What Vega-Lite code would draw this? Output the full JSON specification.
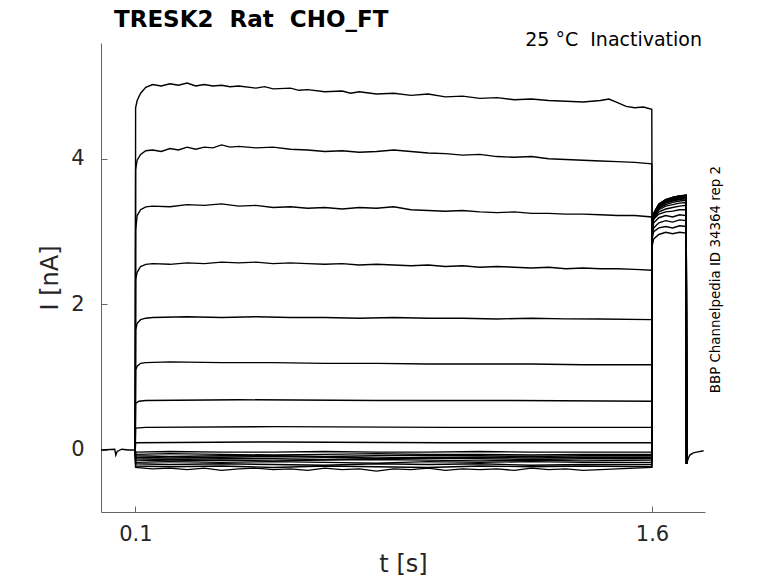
{
  "$schema": "https://vega.github.io/schema/vega-lite/v6.json",
  "width": 604,
  "height": 469,
  "autosize": {"type": "none"},
  "padding": {"left": 101, "top": 43, "right": 73, "bottom": 71},
  "background": "white",
  "config": {
    "view": {"stroke": null},
    "font": "DejaVu Sans",
    "axis": {
      "grid": false,
      "domainColor": "#666666",
      "tickColor": "#666666",
      "tickSize": -6,
      "labelFont": "DejaVu Sans",
      "labelFontSize": 21,
      "labelColor": "#262626",
      "titleFont": "DejaVu Sans",
      "titleFontSize": 24,
      "titleFontWeight": "normal",
      "titleColor": "#262626"
    }
  },
  "title": {
    "text": "TRESK2 \u00a0Rat \u00a0CHO_FT",
    "anchor": "start",
    "frame": "group",
    "font": "DejaVu Sans",
    "fontSize": 23,
    "fontWeight": "bold",
    "color": "black",
    "dx": 13,
    "offset": -1
  },
  "layer": [
    {
      "data": {
        "values": [
          {"s":1,"t":0,"i":0},{"s":1,"t":0.04,"i":0.01},{"s":1,"t":0.043,"i":-0.07},{"s":1,"t":0.047,"i":-0.02},{"s":1,"t":0.06,"i":0.01},{"s":1,"t":0.08,"i":0},{"s":1,"t":0.0995,"i":0},
          {"s":1,"t":0.1005,"i":4.7},{"s":1,"t":0.105,"i":4.8},{"s":1,"t":0.115,"i":4.9},{"s":1,"t":0.13,"i":4.98},{"s":1,"t":0.15,"i":5.02},{"s":1,"t":0.175,"i":5.0},{"s":1,"t":0.2,"i":5.03},{"s":1,"t":0.225,"i":5.01},{"s":1,"t":0.25,"i":5.04},{"s":1,"t":0.275,"i":5.0},{"s":1,"t":0.3,"i":5.02},{"s":1,"t":0.325,"i":5.0},{"s":1,"t":0.35,"i":5.01},{"s":1,"t":0.375,"i":4.99},{"s":1,"t":0.4,"i":5.0},{"s":1,"t":0.45,"i":4.97},{"s":1,"t":0.475,"i":4.99},{"s":1,"t":0.5,"i":4.96},{"s":1,"t":0.55,"i":4.97},{"s":1,"t":0.575,"i":4.94},{"s":1,"t":0.6,"i":4.95},{"s":1,"t":0.65,"i":4.92},{"s":1,"t":0.7,"i":4.93},{"s":1,"t":0.725,"i":4.9},{"s":1,"t":0.75,"i":4.92},{"s":1,"t":0.8,"i":4.89},{"s":1,"t":0.85,"i":4.9},{"s":1,"t":0.9,"i":4.87},{"s":1,"t":0.95,"i":4.89},{"s":1,"t":1.0,"i":4.85},{"s":1,"t":1.05,"i":4.86},{"s":1,"t":1.1,"i":4.83},{"s":1,"t":1.15,"i":4.84},{"s":1,"t":1.2,"i":4.81},{"s":1,"t":1.25,"i":4.82},{"s":1,"t":1.3,"i":4.8},{"s":1,"t":1.35,"i":4.79},{"s":1,"t":1.4,"i":4.78},{"s":1,"t":1.45,"i":4.8},{"s":1,"t":1.475,"i":4.82},{"s":1,"t":1.5,"i":4.77},{"s":1,"t":1.525,"i":4.72},{"s":1,"t":1.55,"i":4.7},{"s":1,"t":1.575,"i":4.71},{"s":1,"t":1.5995,"i":4.68},
          {"s":1,"t":1.6005,"i":2.8},{"s":1,"t":1.605,"i":2.9},{"s":1,"t":1.62,"i":2.96},{"s":1,"t":1.64,"i":2.99},{"s":1,"t":1.66,"i":2.97},{"s":1,"t":1.68,"i":2.99},{"s":1,"t":1.6995,"i":2.98},
          {"s":1,"t":1.7005,"i":-0.19},{"s":1,"t":1.705,"i":-0.12},{"s":1,"t":1.71,"i":-0.07},{"s":1,"t":1.72,"i":-0.04},{"s":1,"t":1.73,"i":-0.03},{"s":1,"t":1.75,"i":-0.01},

          {"s":2,"t":0.0995,"i":0},{"s":2,"t":0.1005,"i":3.85},{"s":2,"t":0.105,"i":3.98},{"s":2,"t":0.115,"i":4.06},{"s":2,"t":0.13,"i":4.11},{"s":2,"t":0.15,"i":4.12},{"s":2,"t":0.175,"i":4.1},{"s":2,"t":0.2,"i":4.14},{"s":2,"t":0.225,"i":4.12},{"s":2,"t":0.25,"i":4.16},{"s":2,"t":0.275,"i":4.13},{"s":2,"t":0.3,"i":4.16},{"s":2,"t":0.325,"i":4.15},{"s":2,"t":0.35,"i":4.19},{"s":2,"t":0.375,"i":4.16},{"s":2,"t":0.4,"i":4.17},{"s":2,"t":0.45,"i":4.15},{"s":2,"t":0.5,"i":4.16},{"s":2,"t":0.55,"i":4.13},{"s":2,"t":0.6,"i":4.12},{"s":2,"t":0.65,"i":4.1},{"s":2,"t":0.7,"i":4.11},{"s":2,"t":0.75,"i":4.09},{"s":2,"t":0.8,"i":4.1},{"s":2,"t":0.85,"i":4.12},{"s":2,"t":0.9,"i":4.1},{"s":2,"t":0.95,"i":4.08},{"s":2,"t":1.0,"i":4.07},{"s":2,"t":1.05,"i":4.05},{"s":2,"t":1.1,"i":4.06},{"s":2,"t":1.15,"i":4.03},{"s":2,"t":1.2,"i":4.02},{"s":2,"t":1.25,"i":4.03},{"s":2,"t":1.3,"i":4.0},{"s":2,"t":1.35,"i":3.99},{"s":2,"t":1.4,"i":3.98},{"s":2,"t":1.45,"i":3.97},{"s":2,"t":1.5,"i":3.96},{"s":2,"t":1.55,"i":3.95},{"s":2,"t":1.5995,"i":3.93},
          {"s":2,"t":1.6005,"i":2.9},{"s":2,"t":1.605,"i":3.0},{"s":2,"t":1.62,"i":3.05},{"s":2,"t":1.64,"i":3.07},{"s":2,"t":1.66,"i":3.05},{"s":2,"t":1.68,"i":3.08},{"s":2,"t":1.6995,"i":3.07},{"s":2,"t":1.7005,"i":-0.19},

          {"s":3,"t":0.0995,"i":0},{"s":3,"t":0.1005,"i":3.02},{"s":3,"t":0.105,"i":3.22},{"s":3,"t":0.115,"i":3.3},{"s":3,"t":0.13,"i":3.34},{"s":3,"t":0.15,"i":3.35},{"s":3,"t":0.2,"i":3.34},{"s":3,"t":0.25,"i":3.37},{"s":3,"t":0.3,"i":3.36},{"s":3,"t":0.35,"i":3.38},{"s":3,"t":0.4,"i":3.35},{"s":3,"t":0.45,"i":3.36},{"s":3,"t":0.5,"i":3.33},{"s":3,"t":0.55,"i":3.34},{"s":3,"t":0.6,"i":3.32},{"s":3,"t":0.65,"i":3.33},{"s":3,"t":0.7,"i":3.31},{"s":3,"t":0.75,"i":3.33},{"s":3,"t":0.8,"i":3.32},{"s":3,"t":0.85,"i":3.34},{"s":3,"t":0.9,"i":3.3},{"s":3,"t":0.95,"i":3.29},{"s":3,"t":1.0,"i":3.28},{"s":3,"t":1.05,"i":3.29},{"s":3,"t":1.1,"i":3.27},{"s":3,"t":1.15,"i":3.26},{"s":3,"t":1.2,"i":3.27},{"s":3,"t":1.25,"i":3.25},{"s":3,"t":1.3,"i":3.25},{"s":3,"t":1.35,"i":3.24},{"s":3,"t":1.4,"i":3.24},{"s":3,"t":1.45,"i":3.23},{"s":3,"t":1.5,"i":3.22},{"s":3,"t":1.55,"i":3.22},{"s":3,"t":1.5995,"i":3.2},
          {"s":3,"t":1.6005,"i":2.95},{"s":3,"t":1.605,"i":3.05},{"s":3,"t":1.62,"i":3.12},{"s":3,"t":1.64,"i":3.15},{"s":3,"t":1.66,"i":3.13},{"s":3,"t":1.68,"i":3.16},{"s":3,"t":1.6995,"i":3.15},{"s":3,"t":1.7005,"i":-0.19},

          {"s":4,"t":0.0995,"i":0},{"s":4,"t":0.1005,"i":2.34},{"s":4,"t":0.105,"i":2.44},{"s":4,"t":0.115,"i":2.52},{"s":4,"t":0.13,"i":2.55},{"s":4,"t":0.15,"i":2.56},{"s":4,"t":0.2,"i":2.55},{"s":4,"t":0.25,"i":2.57},{"s":4,"t":0.3,"i":2.56},{"s":4,"t":0.35,"i":2.58},{"s":4,"t":0.4,"i":2.57},{"s":4,"t":0.45,"i":2.58},{"s":4,"t":0.5,"i":2.56},{"s":4,"t":0.55,"i":2.57},{"s":4,"t":0.6,"i":2.56},{"s":4,"t":0.65,"i":2.55},{"s":4,"t":0.7,"i":2.56},{"s":4,"t":0.75,"i":2.54},{"s":4,"t":0.8,"i":2.55},{"s":4,"t":0.85,"i":2.54},{"s":4,"t":0.9,"i":2.53},{"s":4,"t":0.95,"i":2.54},{"s":4,"t":1.0,"i":2.52},{"s":4,"t":1.05,"i":2.53},{"s":4,"t":1.1,"i":2.51},{"s":4,"t":1.15,"i":2.52},{"s":4,"t":1.2,"i":2.51},{"s":4,"t":1.25,"i":2.5},{"s":4,"t":1.3,"i":2.51},{"s":4,"t":1.35,"i":2.49},{"s":4,"t":1.4,"i":2.5},{"s":4,"t":1.45,"i":2.49},{"s":4,"t":1.5,"i":2.49},{"s":4,"t":1.55,"i":2.48},{"s":4,"t":1.5995,"i":2.47},
          {"s":4,"t":1.6005,"i":3.0},{"s":4,"t":1.605,"i":3.12},{"s":4,"t":1.62,"i":3.19},{"s":4,"t":1.64,"i":3.22},{"s":4,"t":1.66,"i":3.2},{"s":4,"t":1.68,"i":3.23},{"s":4,"t":1.6995,"i":3.22},{"s":4,"t":1.7005,"i":-0.19},

          {"s":5,"t":0.0995,"i":0},{"s":5,"t":0.1005,"i":1.65},{"s":5,"t":0.105,"i":1.74},{"s":5,"t":0.115,"i":1.79},{"s":5,"t":0.13,"i":1.81},{"s":5,"t":0.15,"i":1.82},{"s":5,"t":0.25,"i":1.83},{"s":5,"t":0.35,"i":1.82},{"s":5,"t":0.45,"i":1.83},{"s":5,"t":0.55,"i":1.82},{"s":5,"t":0.65,"i":1.82},{"s":5,"t":0.75,"i":1.81},{"s":5,"t":0.85,"i":1.82},{"s":5,"t":0.95,"i":1.81},{"s":5,"t":1.05,"i":1.81},{"s":5,"t":1.15,"i":1.8},{"s":5,"t":1.25,"i":1.81},{"s":5,"t":1.35,"i":1.8},{"s":5,"t":1.45,"i":1.8},{"s":5,"t":1.5995,"i":1.79},
          {"s":5,"t":1.6005,"i":3.05},{"s":5,"t":1.605,"i":3.17},{"s":5,"t":1.62,"i":3.24},{"s":5,"t":1.64,"i":3.27},{"s":5,"t":1.66,"i":3.28},{"s":5,"t":1.68,"i":3.3},{"s":5,"t":1.6995,"i":3.3},{"s":5,"t":1.7005,"i":-0.19},

          {"s":6,"t":0.0995,"i":0},{"s":6,"t":0.1005,"i":1.1},{"s":6,"t":0.105,"i":1.15},{"s":6,"t":0.115,"i":1.19},{"s":6,"t":0.13,"i":1.2},{"s":6,"t":0.2,"i":1.21},{"s":6,"t":0.35,"i":1.2},{"s":6,"t":0.5,"i":1.2},{"s":6,"t":0.65,"i":1.19},{"s":6,"t":0.8,"i":1.19},{"s":6,"t":0.95,"i":1.18},{"s":6,"t":1.1,"i":1.18},{"s":6,"t":1.25,"i":1.18},{"s":6,"t":1.4,"i":1.17},{"s":6,"t":1.5995,"i":1.17},
          {"s":6,"t":1.6005,"i":3.05},{"s":6,"t":1.605,"i":3.18},{"s":6,"t":1.62,"i":3.27},{"s":6,"t":1.64,"i":3.31},{"s":6,"t":1.66,"i":3.33},{"s":6,"t":1.68,"i":3.35},{"s":6,"t":1.6995,"i":3.36},{"s":6,"t":1.7005,"i":-0.19},

          {"s":7,"t":0.0995,"i":0},{"s":7,"t":0.1005,"i":0.64},{"s":7,"t":0.11,"i":0.67},{"s":7,"t":0.13,"i":0.68},{"s":7,"t":0.4,"i":0.69},{"s":7,"t":0.8,"i":0.68},{"s":7,"t":1.2,"i":0.68},{"s":7,"t":1.5995,"i":0.67},
          {"s":7,"t":1.6005,"i":3.05},{"s":7,"t":1.605,"i":3.2},{"s":7,"t":1.62,"i":3.3},{"s":7,"t":1.64,"i":3.35},{"s":7,"t":1.66,"i":3.37},{"s":7,"t":1.68,"i":3.39},{"s":7,"t":1.6995,"i":3.4},{"s":7,"t":1.7005,"i":-0.19},

          {"s":8,"t":0.0995,"i":0},{"s":8,"t":0.1005,"i":0.3},{"s":8,"t":0.13,"i":0.31},{"s":8,"t":0.5,"i":0.32},{"s":8,"t":1.0,"i":0.31},{"s":8,"t":1.5995,"i":0.31},
          {"s":8,"t":1.6005,"i":3.05},{"s":8,"t":1.605,"i":3.2},{"s":8,"t":1.62,"i":3.32},{"s":8,"t":1.64,"i":3.37},{"s":8,"t":1.66,"i":3.4},{"s":8,"t":1.68,"i":3.42},{"s":8,"t":1.6995,"i":3.43},{"s":8,"t":1.7005,"i":-0.19},

          {"s":9,"t":0.0995,"i":0},{"s":9,"t":0.1005,"i":0.1},{"s":9,"t":0.5,"i":0.11},{"s":9,"t":1.0,"i":0.1},{"s":9,"t":1.5995,"i":0.1},
          {"s":9,"t":1.6005,"i":3.05},{"s":9,"t":1.605,"i":3.22},{"s":9,"t":1.62,"i":3.33},{"s":9,"t":1.64,"i":3.39},{"s":9,"t":1.66,"i":3.42},{"s":9,"t":1.68,"i":3.44},{"s":9,"t":1.6995,"i":3.45},{"s":9,"t":1.7005,"i":-0.19},

          {"s":10,"t":0.0995,"i":0},{"s":10,"t":0.1005,"i":-0.03},{"s":10,"t":0.2,"i":-0.02},{"s":10,"t":0.35,"i":-0.03},{"s":10,"t":0.5,"i":-0.03},{"s":10,"t":0.65,"i":-0.02},{"s":10,"t":0.8,"i":-0.03},{"s":10,"t":0.95,"i":-0.03},{"s":10,"t":1.1,"i":-0.02},{"s":10,"t":1.25,"i":-0.03},{"s":10,"t":1.4,"i":-0.03},{"s":10,"t":1.5995,"i":-0.03},
          {"s":10,"t":1.6005,"i":3.05},{"s":10,"t":1.605,"i":3.22},{"s":10,"t":1.62,"i":3.34},{"s":10,"t":1.64,"i":3.4},{"s":10,"t":1.66,"i":3.43},{"s":10,"t":1.68,"i":3.45},{"s":10,"t":1.6995,"i":3.46},{"s":10,"t":1.7005,"i":-0.19},

          {"s":11,"t":0.0995,"i":0},{"s":11,"t":0.1005,"i":-0.06},{"s":11,"t":0.2,"i":-0.05},{"s":11,"t":0.35,"i":-0.06},{"s":11,"t":0.5,"i":-0.07},{"s":11,"t":0.65,"i":-0.06},{"s":11,"t":0.8,"i":-0.05},{"s":11,"t":0.95,"i":-0.06},{"s":11,"t":1.1,"i":-0.06},{"s":11,"t":1.25,"i":-0.07},{"s":11,"t":1.4,"i":-0.06},{"s":11,"t":1.5995,"i":-0.06},
          {"s":11,"t":1.6005,"i":3.05},{"s":11,"t":1.605,"i":3.22},{"s":11,"t":1.62,"i":3.35},{"s":11,"t":1.64,"i":3.41},{"s":11,"t":1.66,"i":3.44},{"s":11,"t":1.68,"i":3.46},{"s":11,"t":1.6995,"i":3.47},{"s":11,"t":1.7005,"i":-0.19},

          {"s":12,"t":0.0995,"i":0},{"s":12,"t":0.1005,"i":-0.08},{"s":12,"t":0.2,"i":-0.09},{"s":12,"t":0.35,"i":-0.08},{"s":12,"t":0.5,"i":-0.08},{"s":12,"t":0.65,"i":-0.09},{"s":12,"t":0.8,"i":-0.08},{"s":12,"t":0.95,"i":-0.07},{"s":12,"t":1.1,"i":-0.08},{"s":12,"t":1.25,"i":-0.09},{"s":12,"t":1.4,"i":-0.08},{"s":12,"t":1.5995,"i":-0.08},
          {"s":12,"t":1.6005,"i":3.05},{"s":12,"t":1.605,"i":3.23},{"s":12,"t":1.62,"i":3.35},{"s":12,"t":1.64,"i":3.41},{"s":12,"t":1.66,"i":3.45},{"s":12,"t":1.68,"i":3.47},{"s":12,"t":1.6995,"i":3.48},{"s":12,"t":1.7005,"i":-0.19},

          {"s":13,"t":0.0995,"i":0},{"s":13,"t":0.1005,"i":-0.1},{"s":13,"t":0.2,"i":-0.11},{"s":13,"t":0.35,"i":-0.1},{"s":13,"t":0.5,"i":-0.09},{"s":13,"t":0.65,"i":-0.1},{"s":13,"t":0.8,"i":-0.11},{"s":13,"t":0.95,"i":-0.1},{"s":13,"t":1.1,"i":-0.1},{"s":13,"t":1.25,"i":-0.11},{"s":13,"t":1.4,"i":-0.1},{"s":13,"t":1.5995,"i":-0.1},
          {"s":13,"t":1.6005,"i":3.05},{"s":13,"t":1.605,"i":3.23},{"s":13,"t":1.62,"i":3.36},{"s":13,"t":1.64,"i":3.42},{"s":13,"t":1.66,"i":3.45},{"s":13,"t":1.68,"i":3.47},{"s":13,"t":1.6995,"i":3.48},{"s":13,"t":1.7005,"i":-0.19},

          {"s":14,"t":0.0995,"i":0},{"s":14,"t":0.1005,"i":-0.12},{"s":14,"t":0.2,"i":-0.13},{"s":14,"t":0.35,"i":-0.12},{"s":14,"t":0.5,"i":-0.12},{"s":14,"t":0.65,"i":-0.13},{"s":14,"t":0.8,"i":-0.12},{"s":14,"t":0.95,"i":-0.11},{"s":14,"t":1.1,"i":-0.12},{"s":14,"t":1.25,"i":-0.13},{"s":14,"t":1.4,"i":-0.12},{"s":14,"t":1.5995,"i":-0.12},
          {"s":14,"t":1.6005,"i":3.05},{"s":14,"t":1.605,"i":3.24},{"s":14,"t":1.62,"i":3.36},{"s":14,"t":1.64,"i":3.42},{"s":14,"t":1.66,"i":3.46},{"s":14,"t":1.68,"i":3.48},{"s":14,"t":1.6995,"i":3.49},{"s":14,"t":1.7005,"i":-0.19},

          {"s":15,"t":0.0995,"i":0},{"s":15,"t":0.1005,"i":-0.14},{"s":15,"t":0.2,"i":-0.15},{"s":15,"t":0.35,"i":-0.14},{"s":15,"t":0.5,"i":-0.15},{"s":15,"t":0.65,"i":-0.14},{"s":15,"t":0.8,"i":-0.13},{"s":15,"t":0.95,"i":-0.14},{"s":15,"t":1.1,"i":-0.15},{"s":15,"t":1.25,"i":-0.14},{"s":15,"t":1.4,"i":-0.15},{"s":15,"t":1.5995,"i":-0.14},
          {"s":15,"t":1.6005,"i":3.05},{"s":15,"t":1.605,"i":3.24},{"s":15,"t":1.62,"i":3.37},{"s":15,"t":1.64,"i":3.43},{"s":15,"t":1.66,"i":3.46},{"s":15,"t":1.68,"i":3.48},{"s":15,"t":1.6995,"i":3.49},{"s":15,"t":1.7005,"i":-0.19},

          {"s":16,"t":0.0995,"i":0},{"s":16,"t":0.1005,"i":-0.17},{"s":16,"t":0.2,"i":-0.16},{"s":16,"t":0.35,"i":-0.17},{"s":16,"t":0.5,"i":-0.16},{"s":16,"t":0.65,"i":-0.17},{"s":16,"t":0.8,"i":-0.18},{"s":16,"t":0.95,"i":-0.16},{"s":16,"t":1.1,"i":-0.17},{"s":16,"t":1.25,"i":-0.16},{"s":16,"t":1.4,"i":-0.17},{"s":16,"t":1.5995,"i":-0.17},
          {"s":16,"t":1.6005,"i":3.05},{"s":16,"t":1.605,"i":3.24},{"s":16,"t":1.62,"i":3.37},{"s":16,"t":1.64,"i":3.43},{"s":16,"t":1.66,"i":3.46},{"s":16,"t":1.68,"i":3.48},{"s":16,"t":1.6995,"i":3.5},{"s":16,"t":1.7005,"i":-0.19},

          {"s":17,"t":0.0995,"i":0},{"s":17,"t":0.1005,"i":-0.19},{"s":17,"t":0.2,"i":-0.2},{"s":17,"t":0.35,"i":-0.19},{"s":17,"t":0.5,"i":-0.2},{"s":17,"t":0.65,"i":-0.21},{"s":17,"t":0.8,"i":-0.19},{"s":17,"t":0.95,"i":-0.2},{"s":17,"t":1.1,"i":-0.19},{"s":17,"t":1.25,"i":-0.21},{"s":17,"t":1.4,"i":-0.2},{"s":17,"t":1.5995,"i":-0.2},
          {"s":17,"t":1.6005,"i":3.05},{"s":17,"t":1.605,"i":3.25},{"s":17,"t":1.62,"i":3.37},{"s":17,"t":1.64,"i":3.44},{"s":17,"t":1.66,"i":3.47},{"s":17,"t":1.68,"i":3.49},{"s":17,"t":1.6995,"i":3.5},{"s":17,"t":1.7005,"i":-0.19},

          {"s":18,"t":0.0995,"i":0},{"s":18,"t":0.1005,"i":-0.22},{"s":18,"t":0.2,"i":-0.23},{"s":18,"t":0.35,"i":-0.22},{"s":18,"t":0.5,"i":-0.24},{"s":18,"t":0.65,"i":-0.22},{"s":18,"t":0.8,"i":-0.23},{"s":18,"t":0.95,"i":-0.24},{"s":18,"t":1.1,"i":-0.22},{"s":18,"t":1.25,"i":-0.23},{"s":18,"t":1.4,"i":-0.22},{"s":18,"t":1.5995,"i":-0.23},
          {"s":18,"t":1.6005,"i":3.05},{"s":18,"t":1.605,"i":3.25},{"s":18,"t":1.62,"i":3.38},{"s":18,"t":1.64,"i":3.44},{"s":18,"t":1.66,"i":3.47},{"s":18,"t":1.68,"i":3.49},{"s":18,"t":1.6995,"i":3.5},{"s":18,"t":1.7005,"i":-0.19},

          {"s":19,"t":0.0995,"i":0},{"s":19,"t":0.1005,"i":-0.24},{"s":19,"t":0.15,"i":-0.26},{"s":19,"t":0.2,"i":-0.25},{"s":19,"t":0.25,"i":-0.27},{"s":19,"t":0.3,"i":-0.25},{"s":19,"t":0.35,"i":-0.28},{"s":19,"t":0.4,"i":-0.26},{"s":19,"t":0.45,"i":-0.25},{"s":19,"t":0.5,"i":-0.27},{"s":19,"t":0.55,"i":-0.26},{"s":19,"t":0.6,"i":-0.28},{"s":19,"t":0.65,"i":-0.25},{"s":19,"t":0.7,"i":-0.27},{"s":19,"t":0.75,"i":-0.26},{"s":19,"t":0.8,"i":-0.29},{"s":19,"t":0.85,"i":-0.26},{"s":19,"t":0.9,"i":-0.27},{"s":19,"t":0.95,"i":-0.25},{"s":19,"t":1.0,"i":-0.28},{"s":19,"t":1.05,"i":-0.26},{"s":19,"t":1.1,"i":-0.27},{"s":19,"t":1.15,"i":-0.26},{"s":19,"t":1.2,"i":-0.28},{"s":19,"t":1.25,"i":-0.25},{"s":19,"t":1.3,"i":-0.27},{"s":19,"t":1.35,"i":-0.26},{"s":19,"t":1.4,"i":-0.28},{"s":19,"t":1.45,"i":-0.27},{"s":19,"t":1.5,"i":-0.26},{"s":19,"t":1.55,"i":-0.25},{"s":19,"t":1.5995,"i":-0.24},
          {"s":19,"t":1.6005,"i":3.05},{"s":19,"t":1.605,"i":3.25},{"s":19,"t":1.62,"i":3.38},{"s":19,"t":1.64,"i":3.44},{"s":19,"t":1.66,"i":3.47},{"s":19,"t":1.68,"i":3.49},{"s":19,"t":1.6995,"i":3.5},{"s":19,"t":1.7005,"i":-0.19}
        ]
      },
      "mark": {"type": "line", "color": "black", "strokeWidth": 1.4},
      "encoding": {
        "x": {
          "field": "t",
          "type": "quantitative",
          "scale": {"domain": [0, 1.754], "nice": false, "zero": false},
          "axis": {"values": [0.1, 1.6], "format": ".1f", "title": "t [s]", "labelPadding": 17, "titlePadding": 8}
        },
        "y": {
          "field": "i",
          "type": "quantitative",
          "scale": {"domain": [-0.852, 5.59], "nice": false, "zero": false},
          "axis": {"values": [0, 2, 4], "format": "d", "title": "I [nA]", "labelPadding": 23, "titlePadding": 8}
        },
        "detail": {"field": "s", "type": "nominal"}
      }
    },
    {
      "data": {"values": [{"label": "25 °C \u00a0Inactivation"}]},
      "mark": {"type": "text", "align": "right", "baseline": "middle", "fontSize": 19, "font": "DejaVu Sans", "fill": "black", "dx": -3, "dy": -3},
      "encoding": {"x": {"datum": 1.754}, "y": {"datum": 5.59}, "text": {"field": "label"}}
    },
    {
      "data": {"values": [{"label": "BBP Channelpedia ID 34364 rep 2"}]},
      "mark": {"type": "text", "angle": 270, "align": "center", "baseline": "top", "fontSize": 13.4, "font": "DejaVu Sans", "fill": "black", "dy": 4},
      "encoding": {"x": {"datum": 1.754}, "y": {"datum": 2.34}, "text": {"field": "label"}}
    }
  ]
}
